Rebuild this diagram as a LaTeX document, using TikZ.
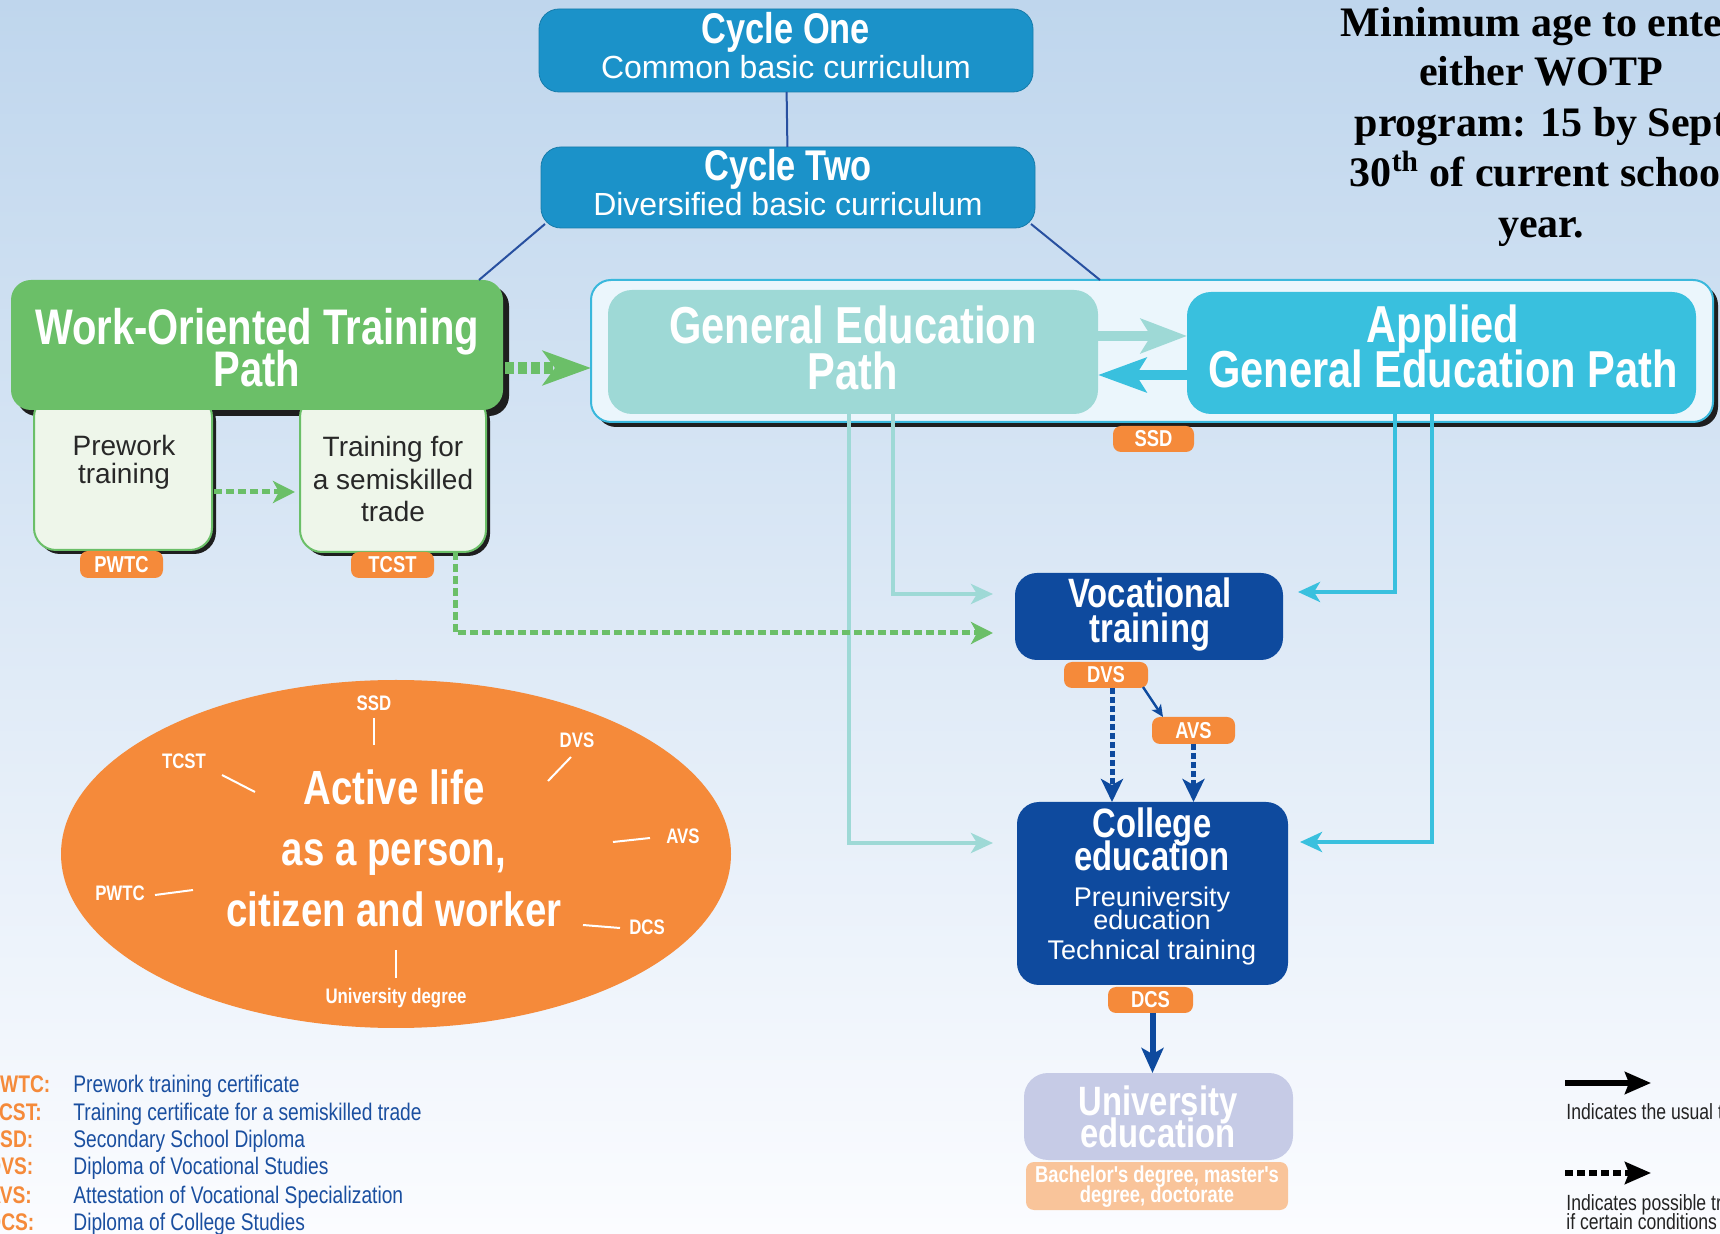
\documentclass[tikz,border=0pt]{standalone}
\usepackage{fontspec}
\setmainfont{Liberation Sans}
\newfontfamily\cond{Liberation Sans}[FakeStretch=0.8]
\newfontfamily\timesb{Liberation Serif}
\usetikzlibrary{arrows.meta,fit,shapes.geometric,shadows}

\definecolor{cyclebl}{RGB}{27,146,201}
\definecolor{wgreen}{RGB}{107,191,104}
\definecolor{wlight}{RGB}{238,246,234}
\definecolor{tagor}{RGB}{245,138,58}
\definecolor{gepc}{RGB}{158,217,214}
\definecolor{agepc}{RGB}{57,192,222}
\definecolor{contfill}{RGB}{235,246,252}
\definecolor{contedge}{RGB}{58,184,220}
\definecolor{navy}{RGB}{14,74,158}
\definecolor{unifill}{RGB}{198,203,230}
\definecolor{bachfill}{RGB}{249,196,154}
\definecolor{linkblue}{RGB}{40,80,160}
\definecolor{legblue}{RGB}{26,79,160}
\definecolor{bgtop}{RGB}{191,214,237}
\definecolor{bgmid}{RGB}{214,228,243}
\definecolor{bgbot}{RGB}{251,252,255}
\definecolor{shadowc}{RGB}{30,30,30}
\definecolor{darktxt}{RGB}{40,40,40}
\definecolor{keygray}{RGB}{35,35,35}

\begin{document}
\begin{tikzpicture}[x=0.5pt,y=-0.5pt,
  box/.style={inner sep=0pt, outer sep=0pt, rounded corners=10pt},
  cyclebox/.style={box, fill=cyclebl, draw=cyclebl!85!black, line width=0.4pt},
  subbox/.style={box, rounded corners=11pt, fill=wlight, draw=wgreen, line width=1pt,
    drop shadow={shadow xshift=2pt, shadow yshift=-2pt, fill=shadowc, opacity=1}},
  tag/.style={inner sep=0pt, outer sep=0pt, rounded corners=4pt, fill=tagor},
  navybox/.style={box, rounded corners=11pt, fill=navy},
  txt/.style={anchor=mid, inner sep=0pt, text=white},
  tagtxt/.style={txt, yshift=-1.3pt, font=\cond\bfseries\fontsize{11.5}{12}\selectfont},
  cyc/.style={txt, yshift=-4pt, font=\cond\bfseries\fontsize{21.5}{23}\selectfont},
  t40/.style={txt, yshift=-3.8pt, font=\cond\bfseries\fontsize{20.5}{22}\selectfont},
  sub32/.style={txt, yshift=-2.8pt, font=\fontsize{16}{18}\selectfont},
  big50/.style={txt, yshift=-5.5pt, font=\cond\bfseries\fontsize{26}{28}\selectfont},
  wot/.style={txt, yshift=-5.5pt, font=\cond\bfseries\fontsize{25}{28}\selectfont},
  reg28/.style={txt, yshift=-2.7pt, text=darktxt, font=\fontsize{14}{16}\selectfont},
  coltxt/.style={txt, yshift=-2.2pt, font=\fontsize{13.5}{15}\selectfont},
  lifetxt/.style={txt, yshift=-5.2pt, font=\cond\bfseries\fontsize{24}{26}\selectfont},
  lifelab/.style={txt, yshift=-1pt, font=\cond\bfseries\fontsize{10.5}{12}\selectfont},
  tick/.style={draw=white, line width=1pt},
  bachtxt/.style={txt, yshift=-1.2pt, font=\cond\bfseries\fontsize{11.5}{12}\selectfont},
  notetxt/.style={txt, yshift=-4.4pt, text=black, font=\timesb\bfseries\fontsize{21}{25}\selectfont},
  legab/.style={anchor=mid west, inner sep=0pt, yshift=-1.2pt, text=tagor, font=\cond\bfseries\fontsize{12}{13}\selectfont},
  legtx/.style={anchor=mid west, inner sep=0pt, yshift=-1.2pt, text=legblue, font=\cond\fontsize{12}{13}\selectfont},
  keytx/.style={anchor=mid west, inner sep=0pt, yshift=-0.6pt, text=keygray, font=\cond\fontsize{11}{12}\selectfont},
  link/.style={draw=linkblue, line width=1pt},
  gline/.style={draw=gepc, line width=2pt, -{Stealth[length=11pt,width=10pt,inset=3pt]}},
  aline/.style={draw=agepc, line width=2pt, -{Stealth[length=11pt,width=10pt,inset=3pt]}},
  gdash/.style={draw=wgreen, line width=2.5pt, dash pattern=on 4pt off 2pt,
    -{Stealth[length=11pt,width=11pt,inset=3pt]}},
  bigdash/.style={draw=wgreen, line width=6pt, dash pattern=on 4.5pt off 2pt,
    -{Stealth[length=24pt,width=17pt,inset=6pt]}},
  gtoa/.style={draw=gepc, line width=5pt, -{Stealth[length=23pt,width=17pt,inset=5pt]}},
  atog/.style={draw=agepc, line width=5pt, -{Stealth[length=24pt,width=17pt,inset=5pt]}},
  bdash/.style={draw=navy, line width=2.5pt, dash pattern=on 3pt off 1.5pt,
    -{Stealth[length=11.5pt,width=11pt,inset=3pt]}},
  navyarr/.style={draw=navy, line width=3pt, -{Stealth[length=12.5pt,width=11pt,inset=3pt]}},
  thinarr/.style={draw=navy, line width=1.2pt, -{Stealth[length=6pt,width=5.5pt,inset=1.5pt]}},
  keyarrow/.style={draw=black, line width=3pt, -{Stealth[length=13pt,width=11pt,inset=2pt]}},
  keydash/.style={keyarrow, dash pattern=on 4pt off 2pt}]

\useasboundingbox (0,0) rectangle (1720,1234);
\clip (0,0) rectangle (1720,1234);
\shade[top color=bgtop, middle color=bgmid, bottom color=bgbot] (0,0) rectangle (1720,1234);

% ---- Cycles
\node[cyclebox, fit={(539,9) (1033,92)}] (c1) {};
\node[cyclebox, fit={(541,147) (1035,228)}] (c2) {};
\node[cyc] (c1a) at (786,30) {Cycle One};
\node[sub32] (c1b) at (786,68) {Common basic curriculum};
\node[cyc] (c2a) at (788,167) {Cycle Two};
\node[sub32] (c2b) at (788,205) {Diversified basic curriculum};
\draw[link] (c1) -- (c2);

% ---- Work-oriented training path
\fill[shadowc, rounded corners=10pt] (17,286) rectangle (509,416);
\node[subbox, fit={(34,395) (212,550)}] (prew) {};
\node[subbox, fit={(300,395) (486,552)}] (train) {};
\node[box, fill=wgreen, fit={(11,280) (503,410)}] (wotp) {};
\node[wot] (wotpa) at (257,328) {Work-Oriented Training};
\node[wot] (wotpb) at (257,370) {Path};
\node[reg28] (prewa) at (124,445) {Prework};
\node[reg28] (prewb) at (124,473) {training};
\node[reg28] (traina) at (393,446) {Training for};
\node[reg28] (trainb) at (393,479) {a semiskilled};
\node[reg28] (trainc) at (393,511) {trade};
\node[tag, fit={(80,551) (163,578)}] (pwtc) {};
\node[tagtxt] (pwtct) at (pwtc.center) {PWTC};
\node[tag, fit={(351,552) (434,578)}] (tcst) {};
\node[tagtxt] (tcstt) at (tcst.center) {TCST};

% ---- General education paths
\node[box, fill=contfill, draw=contedge, line width=1pt,
  drop shadow={shadow xshift=2.5pt, shadow yshift=-2.5pt, fill=shadowc, opacity=1},
  fit={(591,280) (1713,422)}] (cont) {};
\node[box, rounded corners=12pt, fill=gepc, fit={(608,290) (1098,414)}] (gep) {};
\node[box, rounded corners=12pt, fill=agepc, fit={(1187,292) (1696,414)}] (agep) {};
\node[big50] (gepa) at (853,327) {General Education};
\node[big50] (gepb) at (853,373) {Path};
\node[big50] (agepa) at (1443,326) {Applied};
\node[big50] (agepb) at (1443,371) {General Education Path};
\node[tag, fit={(1113,426) (1194,452)}] (ssd) {};
\node[tagtxt] (ssdt) at (ssd.center) {SSD};

\coordinate (ga) at ([shift={(0,-16)}]gep.east);
\coordinate (ag) at ([shift={(0,23)}]gep.east);
\draw[gtoa] (ga) -- (ga -| agep.west);
\draw[atog] (ag -| agep.west) -- (ag);

\draw[link] ([shift={(4,-4)}]c2.south west) -- (479,280) coordinate (wtop);
\draw[link] ([shift={(-4,-4)}]c2.south east) -- (1100,280) coordinate (ctop);

% ---- Vocational, college and university
\node[navybox, fit={(1015,573) (1283,660)}] (voc) {};
\node[t40] (voca) at (1150,595) {Vocational};
\node[t40] (vocb) at (1150,630) {training};
\node[tag, fit={(1064,662) (1148,688)}] (dvs) {};
\node[tagtxt] (dvst) at (dvs.center) {DVS};
\node[tag, fit={(1152,717) (1235,744)}] (avs) {};
\node[tagtxt] (avst) at (avs.center) {AVS};
\node[navybox, fit={(1017,802) (1288,985)}] (col) {};
\node[t40] (cola) at (1152,825) {College};
\node[t40] (colb) at (1152,858) {education};
\node[coltxt] (colc) at (1152,897) {Preuniversity};
\node[coltxt] (cold) at (1152,920) {education};
\node[coltxt] (cole) at (1152,950) {Technical training};
\node[tag, fit={(1108,987) (1193,1013)}] (dcs) {};
\node[tagtxt] (dcst) at (dcs.center) {DCS};
\node[box, rounded corners=12pt, fill=unifill, fit={(1024,1073) (1293,1160)}] (uni) {};
\node[t40] (unia) at (1158,1103) {University};
\node[t40] (unib) at (1158,1135) {education};
\node[tag, fill=bachfill, fit={(1026,1162) (1288,1210)}] (bach) {};
\node[bachtxt] (bacha) at (1157,1175) {Bachelor's degree, master's};
\node[bachtxt] (bachb) at (1157,1195) {degree, doctorate};

% ---- Connectors
\coordinate (vocinA) at (993,594);
\coordinate (vocinG) at (993,633);
\coordinate (colinA) at (993,843);
\coordinate (vocinR) at (1298,592);
\coordinate (colinR) at (1300,842);
\draw[gline] ([shift={(40,0)}]gep.south) |- (vocinA);
\draw[gline] ([shift={(-4,0)}]gep.south) |- (colinA);
\draw[aline] ([shift={(-46.5,0)}]agep.south) |- (vocinR);
\draw[aline] ([shift={(-9.5,0)}]agep.south) |- (colinR);
\draw[gdash] ([shift={(62,0)}]train.south) |- (vocinG);

\coordinate (wa) at ([shift={(2,23)}]wotp.east);
\draw[bigdash] (wa) -- (wa -| cont.west);
\coordinate (pa) at ([shift={(2,19.5)}]prew.east);
\coordinate (pb) at ([shift={(-5,0)}]pa -| train.west);
\draw[gdash] (pa) -- (pb);

\draw[thinarr] ([shift={(-5,-1)}]dvs.south east) -- ([shift={(11,0)}]avs.north west);
\coordinate (da) at ([shift={(6,0)}]dvs.south);
\draw[bdash] (da) -- (da |- col.north);
\draw[bdash] (avs.south) -- (avs.south |- col.north);
\draw[navyarr] ([shift={(2,0)}]dcs.south) -- ([shift={(2,0)}]dcs.south |- uni.north);

% ---- Active life
\node[ellipse, fill=tagor, minimum width=335pt, minimum height=174pt, inner sep=0pt] (life) at (396,854) {};
\node[lifetxt] (lifea) at (394,789) {Active life};
\node[lifetxt] (lifeb) at (394,850) {as a person,};
\node[lifetxt] (lifec) at (394,911) {citizen and worker};
\node[lifelab] (lssd) at (374,703) {SSD};
\node[lifelab] (ltcst) at (184,761) {TCST};
\node[lifelab] (ldvs) at (577,740) {DVS};
\node[lifelab] (lavs) at (683,836) {AVS};
\node[lifelab] (lpwtc) at (120,893) {PWTC};
\node[lifelab] (ldcs) at (647,927) {DCS};
\node[lifelab] (luni) at (396,996) {University degree};
\draw[tick] (374,718) -- (374,745);
\draw[tick] (222,775) -- (255,792);
\draw[tick] (571,757) -- (548,781);
\draw[tick] (650,838) -- (613,842);
\draw[tick] (155,895) -- (193,890);
\draw[tick] (620,928) -- (583,925);
\draw[tick] (396,950) -- (396,978);

% ---- Age note
\node[notetxt] (nt1) at (1541,22) {Minimum age to enter};
\node[notetxt] (nt2) at (1541,71) {either WOTP};
\node[notetxt] (nt3) at (1541,122) {program: 15 by Sept};
\node[notetxt] (nt4) at (1541,172) {30\textsuperscript{th} of current school};
\node[notetxt] (nt5) at (1541,223) {year.};

% ---- Abbreviations
\foreach \ab/\tx/\yy [count=\k] in {
  PWTC/Prework training certificate/1085,
  TCST/Training certificate for a semiskilled trade/1113,
  SSD/Secondary School Diploma/1140,
  DVS/Diploma of Vocational Studies/1167,
  AVS/Attestation of Vocational Specialization/1196,
  DCS/Diploma of College Studies/1223} {
  \node[legab] (ab\k) at (-13,\yy) {\ab:};
  \node[legtx] (tx\k) at (73,\yy) {\tx};
}

% ---- Arrow key
\coordinate (k1a) at (1565,1083);
\coordinate (k1b) at (1651,1083);
\draw[keyarrow] (k1a) -- (k1b);
\node[keytx] (k1t) at (1566,1113) {Indicates the usual transition};
\coordinate (k2a) at (1565,1173);
\coordinate (k2b) at (1651,1173);
\draw[keydash] (k2a) -- (k2b);
\node[keytx] (k2t) at (1566,1204) {Indicates possible transitions};
\node[keytx] (k2u) at (1566,1223) {if certain conditions are met};
\end{tikzpicture}
\end{document}
